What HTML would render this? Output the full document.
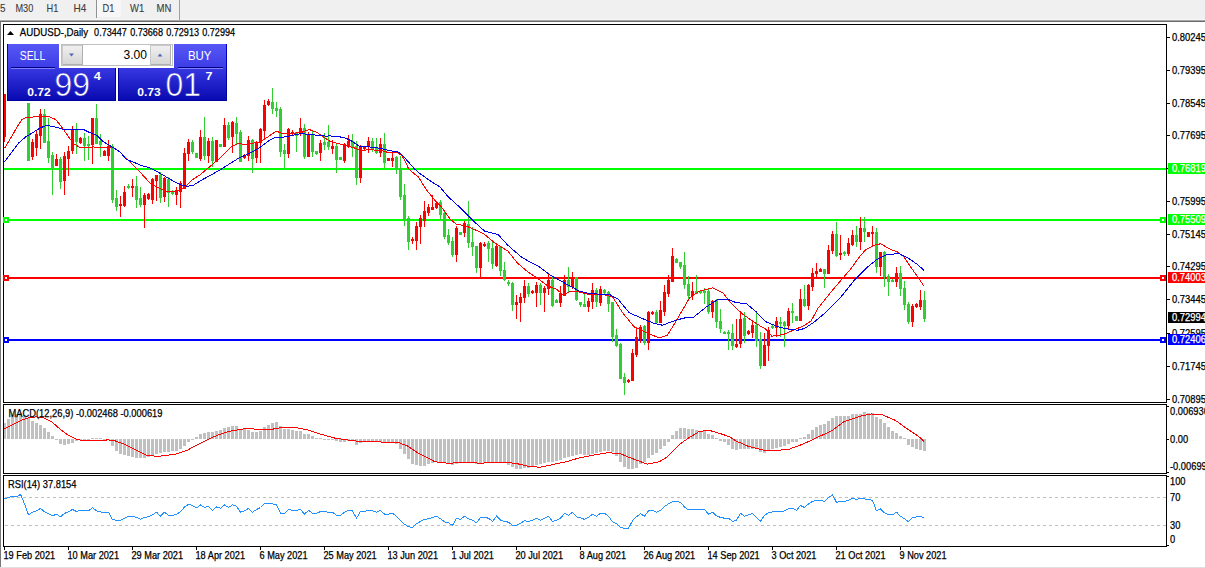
<!DOCTYPE html><html><head><meta charset="utf-8"><style>html,body{margin:0;padding:0;background:#fff;width:1205px;height:568px;overflow:hidden}svg{display:block}text{font-family:"Liberation Sans",sans-serif}</style></head><body>
<svg width="1205" height="568" viewBox="0 0 1205 568">
<rect x="0" y="0" width="1205" height="568" fill="#ffffff"/>
<rect x="0" y="0" width="1205" height="20" fill="#f0f0f0"/>
<rect x="0" y="19" width="1205" height="1" fill="#f6f6f6"/><rect x="0" y="20" width="1205" height="1" fill="#a8a8a8"/><rect x="0" y="21" width="1205" height="1" fill="#6a6a6a"/>
<rect x="97" y="0" width="24" height="17" fill="#f7f7f7"/>
<rect x="96" y="0" width="1" height="18" fill="#909090"/>
<rect x="179" y="0" width="1" height="20" fill="#a0a0a0"/>
<text x="0" y="12" font-size="10.3" fill="#3a3a3a" textLength="5.50" lengthAdjust="spacingAndGlyphs" stroke="#3a3a3a" stroke-width="0.1">5</text>
<text x="15.5" y="12" font-size="10.3" fill="#3a3a3a" textLength="17.80" lengthAdjust="spacingAndGlyphs" stroke="#3a3a3a" stroke-width="0.1">M30</text>
<text x="46.5" y="12" font-size="10.3" fill="#3a3a3a" textLength="11.80" lengthAdjust="spacingAndGlyphs" stroke="#3a3a3a" stroke-width="0.1">H1</text>
<text x="73.5" y="12" font-size="10.3" fill="#3a3a3a" textLength="12.80" lengthAdjust="spacingAndGlyphs" stroke="#3a3a3a" stroke-width="0.1">H4</text>
<text x="102.5" y="12" font-size="10.3" fill="#3a3a3a" textLength="11.80" lengthAdjust="spacingAndGlyphs" stroke="#3a3a3a" stroke-width="0.1">D1</text>
<text x="130" y="12" font-size="10.3" fill="#3a3a3a" textLength="14.20" lengthAdjust="spacingAndGlyphs" stroke="#3a3a3a" stroke-width="0.1">W1</text>
<text x="156.5" y="12" font-size="10.3" fill="#3a3a3a" textLength="14.80" lengthAdjust="spacingAndGlyphs" stroke="#3a3a3a" stroke-width="0.1">MN</text>
<rect x="0" y="21" width="1" height="547" fill="#787878"/>
<rect x="0" y="567" width="1205" height="1" fill="#e0e0e0"/>
<defs><clipPath id="cm"><rect x="4" y="25" width="1162" height="377"/></clipPath><clipPath id="cd"><rect x="4" y="405" width="1162" height="67"/></clipPath><clipPath id="cr"><rect x="4" y="476" width="1162" height="69"/></clipPath></defs>
<g clip-path="url(#cm)" shape-rendering="crispEdges">
<rect x="4" y="168" width="1162" height="2" fill="#00ff00"/>
<rect x="4" y="219" width="1162" height="2" fill="#00ff00"/>
<rect x="4" y="277" width="1162" height="2" fill="#ff0000"/>
<rect x="4" y="339" width="1162" height="2" fill="#0000ff"/>
</g>
<g clip-path="url(#cm)" shape-rendering="crispEdges">
<rect x="4" y="94" width="1" height="48" fill="#ff0000"/>
<rect x="3" y="94" width="3" height="43" fill="#ff0000"/>
<rect x="28" y="103" width="1" height="58" fill="#32cd32"/>
<rect x="27" y="103" width="3" height="58" fill="#32cd32"/>
<rect x="32" y="139" width="1" height="21" fill="#ff0000"/>
<rect x="31" y="142" width="3" height="15" fill="#ff0000"/>
<rect x="36" y="130" width="1" height="26" fill="#ff0000"/>
<rect x="35" y="134" width="3" height="14" fill="#ff0000"/>
<rect x="40" y="109" width="1" height="40" fill="#ff0000"/>
<rect x="39" y="114" width="3" height="22" fill="#ff0000"/>
<rect x="44" y="109" width="1" height="34" fill="#32cd32"/>
<rect x="43" y="114" width="3" height="29" fill="#32cd32"/>
<rect x="48" y="118" width="1" height="45" fill="#32cd32"/>
<rect x="47" y="141" width="3" height="17" fill="#32cd32"/>
<rect x="52" y="152" width="1" height="43" fill="#32cd32"/>
<rect x="51" y="155" width="3" height="13" fill="#32cd32"/>
<rect x="56" y="154" width="1" height="12" fill="#ff0000"/>
<rect x="55" y="159" width="3" height="7" fill="#ff0000"/>
<rect x="60" y="157" width="1" height="32" fill="#32cd32"/>
<rect x="59" y="159" width="3" height="23" fill="#32cd32"/>
<rect x="64" y="152" width="1" height="43" fill="#ff0000"/>
<rect x="63" y="156" width="3" height="25" fill="#ff0000"/>
<rect x="68" y="146" width="1" height="30" fill="#ff0000"/>
<rect x="67" y="151" width="3" height="8" fill="#ff0000"/>
<rect x="72" y="126" width="1" height="28" fill="#ff0000"/>
<rect x="71" y="129" width="3" height="22" fill="#ff0000"/>
<rect x="76" y="123" width="1" height="31" fill="#32cd32"/>
<rect x="75" y="129" width="3" height="13" fill="#32cd32"/>
<rect x="80" y="137" width="1" height="7" fill="#ff0000"/>
<rect x="79" y="138" width="3" height="5" fill="#ff0000"/>
<rect x="84" y="133" width="1" height="28" fill="#32cd32"/>
<rect x="83" y="138" width="3" height="8" fill="#32cd32"/>
<rect x="88" y="136" width="1" height="24" fill="#32cd32"/>
<rect x="87" y="144" width="3" height="2" fill="#32cd32"/>
<rect x="92" y="118" width="1" height="46" fill="#ff0000"/>
<rect x="91" y="118" width="3" height="27" fill="#ff0000"/>
<rect x="96" y="104" width="1" height="40" fill="#32cd32"/>
<rect x="95" y="118" width="3" height="26" fill="#32cd32"/>
<rect x="100" y="134" width="1" height="23" fill="#32cd32"/>
<rect x="99" y="141" width="3" height="4" fill="#32cd32"/>
<rect x="104" y="150" width="1" height="6" fill="#ff0000"/>
<rect x="103" y="151" width="3" height="5" fill="#ff0000"/>
<rect x="108" y="140" width="1" height="21" fill="#ff0000"/>
<rect x="107" y="146" width="3" height="10" fill="#ff0000"/>
<rect x="112" y="144" width="1" height="59" fill="#32cd32"/>
<rect x="111" y="146" width="3" height="54" fill="#32cd32"/>
<rect x="116" y="190" width="1" height="21" fill="#32cd32"/>
<rect x="115" y="198" width="3" height="9" fill="#32cd32"/>
<rect x="120" y="196" width="1" height="21" fill="#ff0000"/>
<rect x="119" y="204" width="3" height="2" fill="#ff0000"/>
<rect x="124" y="186" width="1" height="21" fill="#ff0000"/>
<rect x="123" y="192" width="3" height="14" fill="#ff0000"/>
<rect x="128" y="184" width="1" height="5" fill="#32cd32"/>
<rect x="127" y="186" width="3" height="2" fill="#32cd32"/>
<rect x="132" y="179" width="1" height="18" fill="#ff0000"/>
<rect x="131" y="186" width="3" height="2" fill="#ff0000"/>
<rect x="136" y="176" width="1" height="32" fill="#32cd32"/>
<rect x="135" y="186" width="3" height="14" fill="#32cd32"/>
<rect x="140" y="187" width="1" height="20" fill="#32cd32"/>
<rect x="139" y="198" width="3" height="7" fill="#32cd32"/>
<rect x="144" y="193" width="1" height="35" fill="#ff0000"/>
<rect x="143" y="195" width="3" height="10" fill="#ff0000"/>
<rect x="148" y="193" width="1" height="7" fill="#ff0000"/>
<rect x="147" y="194" width="3" height="5" fill="#ff0000"/>
<rect x="152" y="178" width="1" height="26" fill="#ff0000"/>
<rect x="151" y="179" width="3" height="21" fill="#ff0000"/>
<rect x="156" y="175" width="1" height="26" fill="#ff0000"/>
<rect x="155" y="175" width="3" height="6" fill="#ff0000"/>
<rect x="160" y="172" width="1" height="31" fill="#32cd32"/>
<rect x="159" y="175" width="3" height="23" fill="#32cd32"/>
<rect x="164" y="177" width="1" height="25" fill="#ff0000"/>
<rect x="163" y="178" width="3" height="19" fill="#ff0000"/>
<rect x="168" y="177" width="1" height="30" fill="#32cd32"/>
<rect x="167" y="179" width="3" height="14" fill="#32cd32"/>
<rect x="172" y="190" width="1" height="5" fill="#32cd32"/>
<rect x="171" y="192" width="3" height="2" fill="#32cd32"/>
<rect x="176" y="187" width="1" height="18" fill="#ff0000"/>
<rect x="175" y="190" width="3" height="5" fill="#ff0000"/>
<rect x="180" y="181" width="1" height="27" fill="#ff0000"/>
<rect x="179" y="183" width="3" height="9" fill="#ff0000"/>
<rect x="184" y="148" width="1" height="41" fill="#ff0000"/>
<rect x="183" y="153" width="3" height="36" fill="#ff0000"/>
<rect x="188" y="139" width="1" height="22" fill="#ff0000"/>
<rect x="187" y="142" width="3" height="12" fill="#ff0000"/>
<rect x="192" y="140" width="1" height="14" fill="#32cd32"/>
<rect x="191" y="142" width="3" height="10" fill="#32cd32"/>
<rect x="196" y="153" width="1" height="5" fill="#32cd32"/>
<rect x="195" y="153" width="3" height="5" fill="#32cd32"/>
<rect x="200" y="130" width="1" height="31" fill="#ff0000"/>
<rect x="199" y="137" width="3" height="22" fill="#ff0000"/>
<rect x="204" y="117" width="1" height="43" fill="#32cd32"/>
<rect x="203" y="137" width="3" height="19" fill="#32cd32"/>
<rect x="208" y="138" width="1" height="25" fill="#ff0000"/>
<rect x="207" y="141" width="3" height="15" fill="#ff0000"/>
<rect x="212" y="137" width="1" height="30" fill="#32cd32"/>
<rect x="211" y="141" width="3" height="20" fill="#32cd32"/>
<rect x="216" y="140" width="1" height="22" fill="#ff0000"/>
<rect x="215" y="140" width="3" height="22" fill="#ff0000"/>
<rect x="220" y="144" width="1" height="3" fill="#32cd32"/>
<rect x="219" y="144" width="3" height="3" fill="#32cd32"/>
<rect x="224" y="118" width="1" height="29" fill="#ff0000"/>
<rect x="223" y="125" width="3" height="22" fill="#ff0000"/>
<rect x="228" y="122" width="1" height="18" fill="#32cd32"/>
<rect x="227" y="125" width="3" height="13" fill="#32cd32"/>
<rect x="232" y="121" width="1" height="32" fill="#ff0000"/>
<rect x="231" y="122" width="3" height="15" fill="#ff0000"/>
<rect x="236" y="117" width="1" height="27" fill="#32cd32"/>
<rect x="235" y="123" width="3" height="11" fill="#32cd32"/>
<rect x="240" y="130" width="1" height="32" fill="#32cd32"/>
<rect x="239" y="132" width="3" height="30" fill="#32cd32"/>
<rect x="244" y="154" width="1" height="5" fill="#ff0000"/>
<rect x="243" y="155" width="3" height="3" fill="#ff0000"/>
<rect x="248" y="136" width="1" height="25" fill="#ff0000"/>
<rect x="247" y="140" width="3" height="16" fill="#ff0000"/>
<rect x="252" y="139" width="1" height="34" fill="#32cd32"/>
<rect x="251" y="140" width="3" height="19" fill="#32cd32"/>
<rect x="256" y="141" width="1" height="22" fill="#ff0000"/>
<rect x="255" y="143" width="3" height="15" fill="#ff0000"/>
<rect x="260" y="128" width="1" height="35" fill="#ff0000"/>
<rect x="259" y="129" width="3" height="14" fill="#ff0000"/>
<rect x="264" y="100" width="1" height="40" fill="#ff0000"/>
<rect x="263" y="105" width="3" height="26" fill="#ff0000"/>
<rect x="268" y="99" width="1" height="7" fill="#ff0000"/>
<rect x="267" y="101" width="3" height="4" fill="#ff0000"/>
<rect x="272" y="88" width="1" height="26" fill="#32cd32"/>
<rect x="271" y="102" width="3" height="7" fill="#32cd32"/>
<rect x="276" y="102" width="1" height="15" fill="#32cd32"/>
<rect x="275" y="108" width="3" height="3" fill="#32cd32"/>
<rect x="280" y="107" width="1" height="50" fill="#32cd32"/>
<rect x="279" y="109" width="3" height="43" fill="#32cd32"/>
<rect x="284" y="144" width="1" height="25" fill="#32cd32"/>
<rect x="283" y="150" width="3" height="4" fill="#32cd32"/>
<rect x="288" y="128" width="1" height="30" fill="#ff0000"/>
<rect x="287" y="129" width="3" height="25" fill="#ff0000"/>
<rect x="292" y="130" width="1" height="5" fill="#ff0000"/>
<rect x="291" y="132" width="3" height="2" fill="#ff0000"/>
<rect x="296" y="132" width="1" height="20" fill="#32cd32"/>
<rect x="295" y="132" width="3" height="4" fill="#32cd32"/>
<rect x="300" y="118" width="1" height="18" fill="#ff0000"/>
<rect x="299" y="128" width="3" height="5" fill="#ff0000"/>
<rect x="304" y="124" width="1" height="35" fill="#32cd32"/>
<rect x="303" y="128" width="3" height="29" fill="#32cd32"/>
<rect x="308" y="132" width="1" height="25" fill="#ff0000"/>
<rect x="307" y="134" width="3" height="23" fill="#ff0000"/>
<rect x="312" y="130" width="1" height="27" fill="#32cd32"/>
<rect x="311" y="135" width="3" height="17" fill="#32cd32"/>
<rect x="316" y="151" width="1" height="4" fill="#32cd32"/>
<rect x="315" y="151" width="3" height="3" fill="#32cd32"/>
<rect x="320" y="140" width="1" height="21" fill="#ff0000"/>
<rect x="319" y="143" width="3" height="10" fill="#ff0000"/>
<rect x="324" y="133" width="1" height="17" fill="#32cd32"/>
<rect x="323" y="142" width="3" height="3" fill="#32cd32"/>
<rect x="328" y="125" width="1" height="25" fill="#32cd32"/>
<rect x="327" y="142" width="3" height="5" fill="#32cd32"/>
<rect x="332" y="140" width="1" height="14" fill="#ff0000"/>
<rect x="331" y="146" width="3" height="3" fill="#ff0000"/>
<rect x="336" y="144" width="1" height="29" fill="#32cd32"/>
<rect x="335" y="146" width="3" height="14" fill="#32cd32"/>
<rect x="340" y="157" width="1" height="3" fill="#32cd32"/>
<rect x="339" y="157" width="3" height="3" fill="#32cd32"/>
<rect x="344" y="143" width="1" height="20" fill="#ff0000"/>
<rect x="343" y="145" width="3" height="16" fill="#ff0000"/>
<rect x="348" y="135" width="1" height="13" fill="#ff0000"/>
<rect x="347" y="141" width="3" height="6" fill="#ff0000"/>
<rect x="352" y="134" width="1" height="23" fill="#32cd32"/>
<rect x="351" y="141" width="3" height="6" fill="#32cd32"/>
<rect x="356" y="141" width="1" height="44" fill="#32cd32"/>
<rect x="355" y="146" width="3" height="32" fill="#32cd32"/>
<rect x="360" y="145" width="1" height="38" fill="#ff0000"/>
<rect x="359" y="146" width="3" height="32" fill="#ff0000"/>
<rect x="364" y="146" width="1" height="4" fill="#ff0000"/>
<rect x="363" y="146" width="3" height="3" fill="#ff0000"/>
<rect x="368" y="137" width="1" height="16" fill="#ff0000"/>
<rect x="367" y="141" width="3" height="6" fill="#ff0000"/>
<rect x="372" y="138" width="1" height="14" fill="#32cd32"/>
<rect x="371" y="141" width="3" height="8" fill="#32cd32"/>
<rect x="376" y="138" width="1" height="16" fill="#32cd32"/>
<rect x="375" y="148" width="3" height="5" fill="#32cd32"/>
<rect x="380" y="138" width="1" height="19" fill="#ff0000"/>
<rect x="379" y="144" width="3" height="9" fill="#ff0000"/>
<rect x="384" y="133" width="1" height="35" fill="#32cd32"/>
<rect x="383" y="144" width="3" height="19" fill="#32cd32"/>
<rect x="388" y="158" width="1" height="3" fill="#ff0000"/>
<rect x="387" y="158" width="3" height="3" fill="#ff0000"/>
<rect x="392" y="152" width="1" height="15" fill="#ff0000"/>
<rect x="391" y="158" width="3" height="3" fill="#ff0000"/>
<rect x="396" y="156" width="1" height="18" fill="#32cd32"/>
<rect x="395" y="157" width="3" height="12" fill="#32cd32"/>
<rect x="400" y="156" width="1" height="44" fill="#32cd32"/>
<rect x="399" y="168" width="3" height="29" fill="#32cd32"/>
<rect x="404" y="184" width="1" height="42" fill="#32cd32"/>
<rect x="403" y="195" width="3" height="26" fill="#32cd32"/>
<rect x="408" y="216" width="1" height="34" fill="#32cd32"/>
<rect x="407" y="218" width="3" height="24" fill="#32cd32"/>
<rect x="412" y="237" width="1" height="7" fill="#ff0000"/>
<rect x="411" y="239" width="3" height="2" fill="#ff0000"/>
<rect x="416" y="222" width="1" height="28" fill="#ff0000"/>
<rect x="415" y="226" width="3" height="15" fill="#ff0000"/>
<rect x="420" y="215" width="1" height="29" fill="#ff0000"/>
<rect x="419" y="218" width="3" height="9" fill="#ff0000"/>
<rect x="424" y="201" width="1" height="26" fill="#ff0000"/>
<rect x="423" y="211" width="3" height="10" fill="#ff0000"/>
<rect x="428" y="204" width="1" height="12" fill="#ff0000"/>
<rect x="427" y="207" width="3" height="6" fill="#ff0000"/>
<rect x="432" y="195" width="1" height="15" fill="#ff0000"/>
<rect x="431" y="207" width="3" height="3" fill="#ff0000"/>
<rect x="436" y="202" width="1" height="7" fill="#ff0000"/>
<rect x="435" y="203" width="3" height="5" fill="#ff0000"/>
<rect x="440" y="200" width="1" height="20" fill="#32cd32"/>
<rect x="439" y="202" width="3" height="13" fill="#32cd32"/>
<rect x="444" y="212" width="1" height="27" fill="#32cd32"/>
<rect x="443" y="213" width="3" height="24" fill="#32cd32"/>
<rect x="448" y="229" width="1" height="16" fill="#32cd32"/>
<rect x="447" y="235" width="3" height="8" fill="#32cd32"/>
<rect x="452" y="237" width="1" height="20" fill="#32cd32"/>
<rect x="451" y="241" width="3" height="14" fill="#32cd32"/>
<rect x="456" y="226" width="1" height="36" fill="#ff0000"/>
<rect x="455" y="228" width="3" height="27" fill="#ff0000"/>
<rect x="460" y="232" width="1" height="3" fill="#32cd32"/>
<rect x="459" y="232" width="3" height="3" fill="#32cd32"/>
<rect x="464" y="221" width="1" height="16" fill="#ff0000"/>
<rect x="463" y="223" width="3" height="10" fill="#ff0000"/>
<rect x="468" y="201" width="1" height="47" fill="#32cd32"/>
<rect x="467" y="224" width="3" height="19" fill="#32cd32"/>
<rect x="472" y="227" width="1" height="29" fill="#32cd32"/>
<rect x="471" y="242" width="3" height="5" fill="#32cd32"/>
<rect x="476" y="246" width="1" height="27" fill="#32cd32"/>
<rect x="475" y="246" width="3" height="22" fill="#32cd32"/>
<rect x="480" y="242" width="1" height="35" fill="#ff0000"/>
<rect x="479" y="243" width="3" height="25" fill="#ff0000"/>
<rect x="484" y="242" width="1" height="5" fill="#ff0000"/>
<rect x="483" y="244" width="3" height="2" fill="#ff0000"/>
<rect x="488" y="241" width="1" height="21" fill="#32cd32"/>
<rect x="487" y="243" width="3" height="6" fill="#32cd32"/>
<rect x="492" y="240" width="1" height="29" fill="#32cd32"/>
<rect x="491" y="248" width="3" height="16" fill="#32cd32"/>
<rect x="496" y="245" width="1" height="22" fill="#ff0000"/>
<rect x="495" y="246" width="3" height="20" fill="#ff0000"/>
<rect x="500" y="246" width="1" height="30" fill="#32cd32"/>
<rect x="499" y="246" width="3" height="25" fill="#32cd32"/>
<rect x="504" y="262" width="1" height="19" fill="#32cd32"/>
<rect x="503" y="270" width="3" height="10" fill="#32cd32"/>
<rect x="508" y="280" width="1" height="6" fill="#32cd32"/>
<rect x="507" y="282" width="3" height="2" fill="#32cd32"/>
<rect x="512" y="282" width="1" height="29" fill="#32cd32"/>
<rect x="511" y="283" width="3" height="22" fill="#32cd32"/>
<rect x="516" y="295" width="1" height="24" fill="#ff0000"/>
<rect x="515" y="302" width="3" height="3" fill="#ff0000"/>
<rect x="520" y="293" width="1" height="29" fill="#ff0000"/>
<rect x="519" y="297" width="3" height="6" fill="#ff0000"/>
<rect x="524" y="280" width="1" height="23" fill="#ff0000"/>
<rect x="523" y="286" width="3" height="12" fill="#ff0000"/>
<rect x="528" y="283" width="1" height="14" fill="#32cd32"/>
<rect x="527" y="286" width="3" height="8" fill="#32cd32"/>
<rect x="532" y="290" width="1" height="4" fill="#ff0000"/>
<rect x="531" y="291" width="3" height="2" fill="#ff0000"/>
<rect x="536" y="282" width="1" height="25" fill="#ff0000"/>
<rect x="535" y="285" width="3" height="8" fill="#ff0000"/>
<rect x="540" y="283" width="1" height="22" fill="#32cd32"/>
<rect x="539" y="285" width="3" height="8" fill="#32cd32"/>
<rect x="544" y="286" width="1" height="26" fill="#ff0000"/>
<rect x="543" y="288" width="3" height="5" fill="#ff0000"/>
<rect x="548" y="273" width="1" height="22" fill="#ff0000"/>
<rect x="547" y="280" width="3" height="9" fill="#ff0000"/>
<rect x="552" y="276" width="1" height="31" fill="#32cd32"/>
<rect x="551" y="280" width="3" height="26" fill="#32cd32"/>
<rect x="556" y="299" width="1" height="4" fill="#32cd32"/>
<rect x="555" y="300" width="3" height="3" fill="#32cd32"/>
<rect x="560" y="286" width="1" height="21" fill="#ff0000"/>
<rect x="559" y="293" width="3" height="10" fill="#ff0000"/>
<rect x="564" y="275" width="1" height="21" fill="#ff0000"/>
<rect x="563" y="280" width="3" height="16" fill="#ff0000"/>
<rect x="568" y="267" width="1" height="25" fill="#32cd32"/>
<rect x="567" y="280" width="3" height="7" fill="#32cd32"/>
<rect x="572" y="272" width="1" height="17" fill="#ff0000"/>
<rect x="571" y="277" width="3" height="10" fill="#ff0000"/>
<rect x="576" y="277" width="1" height="24" fill="#32cd32"/>
<rect x="575" y="277" width="3" height="23" fill="#32cd32"/>
<rect x="580" y="302" width="1" height="5" fill="#32cd32"/>
<rect x="579" y="302" width="3" height="3" fill="#32cd32"/>
<rect x="584" y="293" width="1" height="14" fill="#32cd32"/>
<rect x="583" y="304" width="3" height="3" fill="#32cd32"/>
<rect x="588" y="298" width="1" height="14" fill="#ff0000"/>
<rect x="587" y="301" width="3" height="6" fill="#ff0000"/>
<rect x="592" y="283" width="1" height="26" fill="#ff0000"/>
<rect x="591" y="290" width="3" height="12" fill="#ff0000"/>
<rect x="596" y="288" width="1" height="19" fill="#32cd32"/>
<rect x="595" y="290" width="3" height="12" fill="#32cd32"/>
<rect x="600" y="286" width="1" height="20" fill="#ff0000"/>
<rect x="599" y="289" width="3" height="14" fill="#ff0000"/>
<rect x="604" y="289" width="1" height="5" fill="#32cd32"/>
<rect x="603" y="290" width="3" height="3" fill="#32cd32"/>
<rect x="608" y="291" width="1" height="21" fill="#32cd32"/>
<rect x="607" y="292" width="3" height="12" fill="#32cd32"/>
<rect x="612" y="302" width="1" height="40" fill="#32cd32"/>
<rect x="611" y="302" width="3" height="35" fill="#32cd32"/>
<rect x="616" y="329" width="1" height="18" fill="#32cd32"/>
<rect x="615" y="335" width="3" height="11" fill="#32cd32"/>
<rect x="620" y="343" width="1" height="36" fill="#32cd32"/>
<rect x="619" y="344" width="3" height="35" fill="#32cd32"/>
<rect x="624" y="373" width="1" height="22" fill="#32cd32"/>
<rect x="623" y="377" width="3" height="6" fill="#32cd32"/>
<rect x="628" y="379" width="1" height="4" fill="#ff0000"/>
<rect x="627" y="380" width="3" height="2" fill="#ff0000"/>
<rect x="632" y="349" width="1" height="32" fill="#ff0000"/>
<rect x="631" y="353" width="3" height="28" fill="#ff0000"/>
<rect x="636" y="328" width="1" height="29" fill="#ff0000"/>
<rect x="635" y="337" width="3" height="18" fill="#ff0000"/>
<rect x="640" y="325" width="1" height="18" fill="#ff0000"/>
<rect x="639" y="327" width="3" height="12" fill="#ff0000"/>
<rect x="644" y="325" width="1" height="20" fill="#32cd32"/>
<rect x="643" y="326" width="3" height="17" fill="#32cd32"/>
<rect x="648" y="311" width="1" height="39" fill="#ff0000"/>
<rect x="647" y="312" width="3" height="31" fill="#ff0000"/>
<rect x="652" y="311" width="1" height="4" fill="#ff0000"/>
<rect x="651" y="312" width="3" height="2" fill="#ff0000"/>
<rect x="656" y="310" width="1" height="14" fill="#32cd32"/>
<rect x="655" y="312" width="3" height="11" fill="#32cd32"/>
<rect x="660" y="301" width="1" height="22" fill="#ff0000"/>
<rect x="659" y="310" width="3" height="13" fill="#ff0000"/>
<rect x="664" y="285" width="1" height="31" fill="#ff0000"/>
<rect x="663" y="292" width="3" height="20" fill="#ff0000"/>
<rect x="668" y="275" width="1" height="22" fill="#ff0000"/>
<rect x="667" y="280" width="3" height="14" fill="#ff0000"/>
<rect x="672" y="248" width="1" height="34" fill="#ff0000"/>
<rect x="671" y="256" width="3" height="26" fill="#ff0000"/>
<rect x="676" y="258" width="1" height="5" fill="#32cd32"/>
<rect x="675" y="259" width="3" height="4" fill="#32cd32"/>
<rect x="680" y="262" width="1" height="7" fill="#32cd32"/>
<rect x="679" y="262" width="3" height="5" fill="#32cd32"/>
<rect x="684" y="252" width="1" height="37" fill="#32cd32"/>
<rect x="683" y="265" width="3" height="20" fill="#32cd32"/>
<rect x="688" y="276" width="1" height="25" fill="#32cd32"/>
<rect x="687" y="284" width="3" height="12" fill="#32cd32"/>
<rect x="692" y="282" width="1" height="18" fill="#ff0000"/>
<rect x="691" y="291" width="3" height="5" fill="#ff0000"/>
<rect x="696" y="275" width="1" height="19" fill="#32cd32"/>
<rect x="695" y="291" width="3" height="3" fill="#32cd32"/>
<rect x="700" y="290" width="1" height="4" fill="#32cd32"/>
<rect x="699" y="291" width="3" height="2" fill="#32cd32"/>
<rect x="704" y="288" width="1" height="16" fill="#32cd32"/>
<rect x="703" y="291" width="3" height="2" fill="#32cd32"/>
<rect x="708" y="289" width="1" height="25" fill="#32cd32"/>
<rect x="707" y="291" width="3" height="21" fill="#32cd32"/>
<rect x="712" y="300" width="1" height="18" fill="#ff0000"/>
<rect x="711" y="301" width="3" height="11" fill="#ff0000"/>
<rect x="716" y="299" width="1" height="29" fill="#32cd32"/>
<rect x="715" y="300" width="3" height="22" fill="#32cd32"/>
<rect x="720" y="309" width="1" height="24" fill="#32cd32"/>
<rect x="719" y="321" width="3" height="8" fill="#32cd32"/>
<rect x="724" y="331" width="1" height="3" fill="#32cd32"/>
<rect x="723" y="332" width="3" height="2" fill="#32cd32"/>
<rect x="728" y="330" width="1" height="20" fill="#32cd32"/>
<rect x="727" y="332" width="3" height="2" fill="#32cd32"/>
<rect x="732" y="324" width="1" height="26" fill="#32cd32"/>
<rect x="731" y="333" width="3" height="13" fill="#32cd32"/>
<rect x="736" y="319" width="1" height="29" fill="#ff0000"/>
<rect x="735" y="344" width="3" height="3" fill="#ff0000"/>
<rect x="740" y="312" width="1" height="36" fill="#ff0000"/>
<rect x="739" y="319" width="3" height="25" fill="#ff0000"/>
<rect x="744" y="312" width="1" height="31" fill="#32cd32"/>
<rect x="743" y="318" width="3" height="18" fill="#32cd32"/>
<rect x="748" y="330" width="1" height="5" fill="#ff0000"/>
<rect x="747" y="331" width="3" height="3" fill="#ff0000"/>
<rect x="752" y="321" width="1" height="17" fill="#ff0000"/>
<rect x="751" y="325" width="3" height="8" fill="#ff0000"/>
<rect x="756" y="313" width="1" height="34" fill="#32cd32"/>
<rect x="755" y="325" width="3" height="16" fill="#32cd32"/>
<rect x="760" y="332" width="1" height="37" fill="#32cd32"/>
<rect x="759" y="339" width="3" height="27" fill="#32cd32"/>
<rect x="764" y="333" width="1" height="33" fill="#ff0000"/>
<rect x="763" y="345" width="3" height="21" fill="#ff0000"/>
<rect x="768" y="327" width="1" height="34" fill="#ff0000"/>
<rect x="767" y="330" width="3" height="16" fill="#ff0000"/>
<rect x="772" y="325" width="1" height="4" fill="#32cd32"/>
<rect x="771" y="326" width="3" height="2" fill="#32cd32"/>
<rect x="776" y="317" width="1" height="20" fill="#ff0000"/>
<rect x="775" y="321" width="3" height="7" fill="#ff0000"/>
<rect x="780" y="317" width="1" height="20" fill="#32cd32"/>
<rect x="779" y="322" width="3" height="2" fill="#32cd32"/>
<rect x="784" y="321" width="1" height="26" fill="#32cd32"/>
<rect x="783" y="322" width="3" height="4" fill="#32cd32"/>
<rect x="788" y="308" width="1" height="22" fill="#ff0000"/>
<rect x="787" y="311" width="3" height="15" fill="#ff0000"/>
<rect x="792" y="303" width="1" height="20" fill="#32cd32"/>
<rect x="791" y="311" width="3" height="2" fill="#32cd32"/>
<rect x="796" y="316" width="1" height="5" fill="#32cd32"/>
<rect x="795" y="316" width="3" height="5" fill="#32cd32"/>
<rect x="800" y="289" width="1" height="32" fill="#ff0000"/>
<rect x="799" y="299" width="3" height="22" fill="#ff0000"/>
<rect x="804" y="285" width="1" height="22" fill="#32cd32"/>
<rect x="803" y="299" width="3" height="7" fill="#32cd32"/>
<rect x="808" y="284" width="1" height="26" fill="#ff0000"/>
<rect x="807" y="285" width="3" height="21" fill="#ff0000"/>
<rect x="812" y="268" width="1" height="23" fill="#ff0000"/>
<rect x="811" y="273" width="3" height="14" fill="#ff0000"/>
<rect x="816" y="263" width="1" height="15" fill="#ff0000"/>
<rect x="815" y="271" width="3" height="3" fill="#ff0000"/>
<rect x="820" y="268" width="1" height="4" fill="#ff0000"/>
<rect x="819" y="269" width="3" height="3" fill="#ff0000"/>
<rect x="824" y="269" width="1" height="19" fill="#32cd32"/>
<rect x="823" y="269" width="3" height="5" fill="#32cd32"/>
<rect x="828" y="245" width="1" height="29" fill="#ff0000"/>
<rect x="827" y="250" width="3" height="24" fill="#ff0000"/>
<rect x="832" y="231" width="1" height="23" fill="#ff0000"/>
<rect x="831" y="234" width="3" height="17" fill="#ff0000"/>
<rect x="836" y="222" width="1" height="35" fill="#32cd32"/>
<rect x="835" y="234" width="3" height="22" fill="#32cd32"/>
<rect x="840" y="235" width="1" height="25" fill="#ff0000"/>
<rect x="839" y="253" width="3" height="2" fill="#ff0000"/>
<rect x="844" y="251" width="1" height="5" fill="#32cd32"/>
<rect x="843" y="252" width="3" height="2" fill="#32cd32"/>
<rect x="848" y="238" width="1" height="18" fill="#ff0000"/>
<rect x="847" y="243" width="3" height="11" fill="#ff0000"/>
<rect x="852" y="230" width="1" height="16" fill="#ff0000"/>
<rect x="851" y="235" width="3" height="10" fill="#ff0000"/>
<rect x="856" y="226" width="1" height="21" fill="#32cd32"/>
<rect x="855" y="235" width="3" height="7" fill="#32cd32"/>
<rect x="860" y="217" width="1" height="33" fill="#ff0000"/>
<rect x="859" y="228" width="3" height="14" fill="#ff0000"/>
<rect x="864" y="217" width="1" height="25" fill="#32cd32"/>
<rect x="863" y="228" width="3" height="4" fill="#32cd32"/>
<rect x="868" y="232" width="1" height="5" fill="#ff0000"/>
<rect x="867" y="232" width="3" height="5" fill="#ff0000"/>
<rect x="872" y="226" width="1" height="21" fill="#ff0000"/>
<rect x="871" y="232" width="3" height="2" fill="#ff0000"/>
<rect x="876" y="228" width="1" height="45" fill="#32cd32"/>
<rect x="875" y="232" width="3" height="35" fill="#32cd32"/>
<rect x="880" y="252" width="1" height="24" fill="#ff0000"/>
<rect x="879" y="252" width="3" height="15" fill="#ff0000"/>
<rect x="884" y="251" width="1" height="36" fill="#32cd32"/>
<rect x="883" y="252" width="3" height="25" fill="#32cd32"/>
<rect x="888" y="274" width="1" height="22" fill="#32cd32"/>
<rect x="887" y="276" width="3" height="6" fill="#32cd32"/>
<rect x="892" y="279" width="1" height="3" fill="#32cd32"/>
<rect x="891" y="280" width="3" height="2" fill="#32cd32"/>
<rect x="896" y="267" width="1" height="20" fill="#ff0000"/>
<rect x="895" y="273" width="3" height="9" fill="#ff0000"/>
<rect x="900" y="266" width="1" height="30" fill="#32cd32"/>
<rect x="899" y="273" width="3" height="16" fill="#32cd32"/>
<rect x="904" y="281" width="1" height="29" fill="#32cd32"/>
<rect x="903" y="288" width="3" height="17" fill="#32cd32"/>
<rect x="908" y="302" width="1" height="22" fill="#32cd32"/>
<rect x="907" y="304" width="3" height="18" fill="#32cd32"/>
<rect x="912" y="304" width="1" height="23" fill="#ff0000"/>
<rect x="911" y="306" width="3" height="16" fill="#ff0000"/>
<rect x="916" y="303" width="1" height="5" fill="#ff0000"/>
<rect x="915" y="304" width="3" height="3" fill="#ff0000"/>
<rect x="920" y="290" width="1" height="20" fill="#ff0000"/>
<rect x="919" y="300" width="3" height="7" fill="#ff0000"/>
<rect x="924" y="291" width="1" height="31" fill="#32cd32"/>
<rect x="923" y="300" width="3" height="19" fill="#32cd32"/>
</g>
<polyline clip-path="url(#cm)" points="4.5,148.5 10.5,138.5 17.1,127.0 22.1,119.5 25.5,117.9 33.5,117.0 40.5,116.2 48.5,116.2 55.5,119.5 60.5,125.3 66.9,134.5 73.5,143.5 80.2,147.7 86.8,147.7 93.5,146.9 100.1,147.7 106.7,147.7 113.4,147.7 120.0,151.9 126.5,158.8 134.9,167.1 141.5,173.7 149.9,182.9 158.2,187.8 166.5,191.2 174.8,192.0 183.1,188.7 191.4,180.4 200.5,174.5 209.7,166.8 221.3,156.9 231.3,146.9 237.9,143.6 246.2,144.4 259.5,141.9 267.8,137.0 276.1,131.1 282.7,133.6 292.7,133.6 302.6,132.0 309.3,129.5 317.6,132.8 325.9,138.6 330.5,141.7 338.8,143.8 345.4,145.0 350.4,146.7 355.4,148.3 358.7,149.6 363.7,150.8 367.0,149.6 373.7,150.0 380.3,150.4 386.9,152.1 396.9,152.5 401.9,155.4 406.0,162.8 408.5,168.7 412.7,172.5 418.3,176.9 426.6,190.2 434.9,200.2 441.5,207.1 449.8,218.7 456.5,224.5 464.8,225.4 476.4,230.4 484.7,234.5 494.6,242.8 507.9,251.1 517.9,263.5 527.8,271.8 537.8,278.5 547.8,286.0 556.1,289.0 562.9,294.5 571.2,291.2 579.5,292.0 589.5,294.5 602.7,294.5 612.7,297.0 622.6,312.8 634.3,326.9 647.3,332.9 658.9,337.9 667.2,335.4 675.5,322.1 689.7,297.7 699.7,291.1 712.9,287.8 722.9,292.8 731.2,303.5 742.8,314.3 756.1,323.5 766.0,329.3 771.8,336.2 783.4,334.5 797.5,328.5 804.5,325.2 811.1,321.1 817.7,308.6 831.0,292.0 840.9,280.4 850.9,268.8 859.2,257.2 865.8,249.5 874.1,245.3 880.8,243.7 889.1,248.7 897.4,252.0 904.0,257.0 910.6,266.9 918.9,278.5 923.9,286.0" fill="none" stroke="#ff0000" stroke-width="1" shape-rendering="crispEdges"/>
<polyline clip-path="url(#cm)" points="4.5,161.8 12.1,151.9 18.8,142.8 25.5,137.0 33.7,132.0 40.3,127.8 47.0,125.3 55.3,127.0 63.5,129.5 73.5,129.5 83.5,129.5 90.1,132.8 96.8,135.3 103.5,141.9 113.4,147.7 120.0,151.9 126.5,159.5 133.3,162.1 141.5,165.5 149.9,167.9 156.5,171.2 166.5,177.1 174.8,182.0 181.5,185.4 188.0,186.2 193.0,185.4 203.1,179.3 219.7,170.1 231.3,162.7 239.5,157.7 249.5,153.5 259.5,147.7 269.5,140.3 276.1,137.0 284.4,137.0 292.7,135.3 301.0,133.6 309.3,134.5 317.6,135.3 325.9,136.1 330.5,135.9 332.2,136.7 342.9,137.1 347.1,138.8 352.1,141.3 358.7,145.8 362.9,147.1 367.0,146.2 372.0,147.5 377.0,147.9 382.0,148.7 386.9,150.0 391.1,150.8 398.5,152.2 402.7,155.4 407.7,161.2 414.3,168.7 418.5,172.5 431.6,181.9 439.9,186.9 448.2,196.8 461.5,208.8 474.7,222.1 484.7,231.2 498.0,234.5 507.9,245.3 521.2,256.9 531.2,262.7 539.5,266.9 549.6,274.6 562.9,282.1 579.5,291.2 589.5,293.7 609.4,294.5 617.7,298.7 629.3,312.8 642.6,318.6 654.2,323.5 662.5,325.2 675.8,320.2 685.7,317.7 693.0,317.7 706.3,306.9 717.9,299.4 727.9,299.4 736.2,302.7 746.1,303.5 756.1,311.8 766.0,321.8 776.7,326.2 785.0,328.7 797.8,330.2 804.5,328.5 814.4,321.9 824.3,313.6 840.9,297.0 854.2,280.4 867.5,267.1 875.8,260.3 887.4,254.5 899.0,253.6 909.0,258.6 917.3,264.4 923.9,270.2" fill="none" stroke="#0000e6" stroke-width="1" shape-rendering="crispEdges"/>
<rect x="3.5" y="24.5" width="1163" height="378" fill="none" stroke="#000" stroke-width="1" shape-rendering="crispEdges"/>
<rect x="3.5" y="404.5" width="1163" height="69" fill="none" stroke="#000" stroke-width="1" shape-rendering="crispEdges"/>
<rect x="3.5" y="475.5" width="1163" height="71" fill="none" stroke="#000" stroke-width="1" shape-rendering="crispEdges"/>
<g shape-rendering="crispEdges">
<rect x="3" y="217" width="6" height="6" fill="#00ff00"/><rect x="5" y="219" width="2" height="2" fill="#fff"/>
<rect x="1160" y="217" width="6" height="6" fill="#00ff00"/><rect x="1162" y="219" width="2" height="2" fill="#fff"/>
<rect x="3" y="275" width="6" height="6" fill="#ff0000"/><rect x="5" y="277" width="2" height="2" fill="#fff"/>
<rect x="1160" y="275" width="6" height="6" fill="#ff0000"/><rect x="1162" y="277" width="2" height="2" fill="#fff"/>
<rect x="3" y="337" width="6" height="6" fill="#0000ff"/><rect x="5" y="339" width="2" height="2" fill="#fff"/>
<rect x="1160" y="337" width="6" height="6" fill="#0000ff"/><rect x="1162" y="339" width="2" height="2" fill="#fff"/>
</g>
<g shape-rendering="crispEdges">
<rect x="1167" y="37" width="3" height="1" fill="#000"/>
<rect x="1167" y="70" width="3" height="1" fill="#000"/>
<rect x="1167" y="103" width="3" height="1" fill="#000"/>
<rect x="1167" y="135" width="3" height="1" fill="#000"/>
<rect x="1167" y="168" width="3" height="1" fill="#000"/>
<rect x="1167" y="201" width="3" height="1" fill="#000"/>
<rect x="1167" y="234" width="3" height="1" fill="#000"/>
<rect x="1167" y="266" width="3" height="1" fill="#000"/>
<rect x="1167" y="299" width="3" height="1" fill="#000"/>
<rect x="1167" y="333" width="3" height="1" fill="#000"/>
<rect x="1167" y="366" width="3" height="1" fill="#000"/>
<rect x="1167" y="399" width="3" height="1" fill="#000"/>
</g>
<text x="1172" y="41" font-size="10" fill="#000" textLength="34.00" lengthAdjust="spacingAndGlyphs" stroke="#000" stroke-width="0.25">0.80245</text>
<text x="1172" y="74" font-size="10" fill="#000" textLength="34.00" lengthAdjust="spacingAndGlyphs" stroke="#000" stroke-width="0.25">0.79395</text>
<text x="1172" y="107" font-size="10" fill="#000" textLength="34.00" lengthAdjust="spacingAndGlyphs" stroke="#000" stroke-width="0.25">0.78545</text>
<text x="1172" y="139" font-size="10" fill="#000" textLength="34.00" lengthAdjust="spacingAndGlyphs" stroke="#000" stroke-width="0.25">0.77695</text>
<text x="1172" y="172" font-size="10" fill="#000" textLength="34.00" lengthAdjust="spacingAndGlyphs" stroke="#000" stroke-width="0.25">0.76845</text>
<text x="1172" y="205" font-size="10" fill="#000" textLength="34.00" lengthAdjust="spacingAndGlyphs" stroke="#000" stroke-width="0.25">0.75995</text>
<text x="1172" y="238" font-size="10" fill="#000" textLength="34.00" lengthAdjust="spacingAndGlyphs" stroke="#000" stroke-width="0.25">0.75145</text>
<text x="1172" y="270" font-size="10" fill="#000" textLength="34.00" lengthAdjust="spacingAndGlyphs" stroke="#000" stroke-width="0.25">0.74295</text>
<text x="1172" y="303" font-size="10" fill="#000" textLength="34.00" lengthAdjust="spacingAndGlyphs" stroke="#000" stroke-width="0.25">0.73445</text>
<text x="1172" y="337" font-size="10" fill="#000" textLength="34.00" lengthAdjust="spacingAndGlyphs" stroke="#000" stroke-width="0.25">0.72595</text>
<text x="1172" y="370" font-size="10" fill="#000" textLength="34.00" lengthAdjust="spacingAndGlyphs" stroke="#000" stroke-width="0.25">0.71745</text>
<text x="1172" y="403" font-size="10" fill="#000" textLength="34.00" lengthAdjust="spacingAndGlyphs" stroke="#000" stroke-width="0.25">0.70895</text>
<rect x="1168" y="163" width="37" height="11" fill="#00ff00" shape-rendering="crispEdges"/>
<text x="1172" y="172" font-size="10" fill="#fff" textLength="34.00" lengthAdjust="spacingAndGlyphs" stroke="#fff" stroke-width="0.25">0.76819</text>
<rect x="1168" y="214" width="37" height="11" fill="#00ff00" shape-rendering="crispEdges"/>
<text x="1172" y="223" font-size="10" fill="#fff" textLength="34.00" lengthAdjust="spacingAndGlyphs" stroke="#fff" stroke-width="0.25">0.75509</text>
<rect x="1168" y="312" width="37" height="11" fill="#000000" shape-rendering="crispEdges"/>
<text x="1172" y="321" font-size="10" fill="#fff" textLength="34.00" lengthAdjust="spacingAndGlyphs" stroke="#fff" stroke-width="0.25">0.72994</text>
<rect x="1168" y="272" width="37" height="11" fill="#ff0000" shape-rendering="crispEdges"/>
<text x="1172" y="281" font-size="10" fill="#fff" textLength="34.00" lengthAdjust="spacingAndGlyphs" stroke="#fff" stroke-width="0.25">0.74003</text>
<rect x="1168" y="334" width="37" height="11" fill="#0000ff" shape-rendering="crispEdges"/>
<text x="1172" y="343" font-size="10" fill="#fff" textLength="34.00" lengthAdjust="spacingAndGlyphs" stroke="#fff" stroke-width="0.25">0.72406</text>
<g clip-path="url(#cd)" shape-rendering="crispEdges">
<rect x="3" y="423" width="3" height="16" fill="#c0c0c0"/>
<rect x="7" y="419" width="3" height="20" fill="#c0c0c0"/>
<rect x="11" y="415" width="3" height="24" fill="#c0c0c0"/>
<rect x="15" y="414" width="3" height="25" fill="#c0c0c0"/>
<rect x="19" y="413" width="3" height="26" fill="#c0c0c0"/>
<rect x="23" y="415" width="3" height="24" fill="#c0c0c0"/>
<rect x="27" y="418" width="3" height="21" fill="#c0c0c0"/>
<rect x="31" y="421" width="3" height="18" fill="#c0c0c0"/>
<rect x="35" y="423" width="3" height="16" fill="#c0c0c0"/>
<rect x="39" y="425" width="3" height="14" fill="#c0c0c0"/>
<rect x="43" y="428" width="3" height="11" fill="#c0c0c0"/>
<rect x="47" y="432" width="3" height="7" fill="#c0c0c0"/>
<rect x="51" y="436" width="3" height="3" fill="#c0c0c0"/>
<rect x="55" y="439" width="3" height="1" fill="#c0c0c0"/>
<rect x="59" y="439" width="3" height="5" fill="#c0c0c0"/>
<rect x="63" y="439" width="3" height="6" fill="#c0c0c0"/>
<rect x="67" y="439" width="3" height="5" fill="#c0c0c0"/>
<rect x="71" y="439" width="3" height="4" fill="#c0c0c0"/>
<rect x="75" y="439" width="3" height="2" fill="#c0c0c0"/>
<rect x="79" y="439" width="3" height="1" fill="#c0c0c0"/>
<rect x="83" y="439" width="3" height="1" fill="#c0c0c0"/>
<rect x="87" y="439" width="3" height="1" fill="#c0c0c0"/>
<rect x="91" y="438" width="3" height="1" fill="#c0c0c0"/>
<rect x="95" y="438" width="3" height="1" fill="#c0c0c0"/>
<rect x="99" y="438" width="3" height="1" fill="#c0c0c0"/>
<rect x="103" y="439" width="3" height="1" fill="#c0c0c0"/>
<rect x="107" y="439" width="3" height="1" fill="#c0c0c0"/>
<rect x="111" y="439" width="3" height="7" fill="#c0c0c0"/>
<rect x="115" y="439" width="3" height="12" fill="#c0c0c0"/>
<rect x="119" y="439" width="3" height="15" fill="#c0c0c0"/>
<rect x="123" y="439" width="3" height="16" fill="#c0c0c0"/>
<rect x="127" y="439" width="3" height="17" fill="#c0c0c0"/>
<rect x="131" y="439" width="3" height="18" fill="#c0c0c0"/>
<rect x="135" y="439" width="3" height="19" fill="#c0c0c0"/>
<rect x="139" y="439" width="3" height="19" fill="#c0c0c0"/>
<rect x="143" y="439" width="3" height="19" fill="#c0c0c0"/>
<rect x="147" y="439" width="3" height="18" fill="#c0c0c0"/>
<rect x="151" y="439" width="3" height="16" fill="#c0c0c0"/>
<rect x="155" y="439" width="3" height="15" fill="#c0c0c0"/>
<rect x="159" y="439" width="3" height="14" fill="#c0c0c0"/>
<rect x="163" y="439" width="3" height="13" fill="#c0c0c0"/>
<rect x="167" y="439" width="3" height="13" fill="#c0c0c0"/>
<rect x="171" y="439" width="3" height="12" fill="#c0c0c0"/>
<rect x="175" y="439" width="3" height="12" fill="#c0c0c0"/>
<rect x="179" y="439" width="3" height="10" fill="#c0c0c0"/>
<rect x="183" y="439" width="3" height="7" fill="#c0c0c0"/>
<rect x="187" y="439" width="3" height="3" fill="#c0c0c0"/>
<rect x="191" y="439" width="3" height="1" fill="#c0c0c0"/>
<rect x="195" y="437" width="3" height="2" fill="#c0c0c0"/>
<rect x="199" y="434" width="3" height="5" fill="#c0c0c0"/>
<rect x="203" y="433" width="3" height="6" fill="#c0c0c0"/>
<rect x="207" y="432" width="3" height="7" fill="#c0c0c0"/>
<rect x="211" y="432" width="3" height="7" fill="#c0c0c0"/>
<rect x="215" y="431" width="3" height="8" fill="#c0c0c0"/>
<rect x="219" y="430" width="3" height="9" fill="#c0c0c0"/>
<rect x="223" y="428" width="3" height="11" fill="#c0c0c0"/>
<rect x="227" y="427" width="3" height="12" fill="#c0c0c0"/>
<rect x="231" y="426" width="3" height="13" fill="#c0c0c0"/>
<rect x="235" y="426" width="3" height="13" fill="#c0c0c0"/>
<rect x="239" y="429" width="3" height="10" fill="#c0c0c0"/>
<rect x="243" y="429" width="3" height="10" fill="#c0c0c0"/>
<rect x="247" y="430" width="3" height="9" fill="#c0c0c0"/>
<rect x="251" y="432" width="3" height="7" fill="#c0c0c0"/>
<rect x="255" y="432" width="3" height="7" fill="#c0c0c0"/>
<rect x="259" y="431" width="3" height="8" fill="#c0c0c0"/>
<rect x="263" y="427" width="3" height="12" fill="#c0c0c0"/>
<rect x="267" y="425" width="3" height="14" fill="#c0c0c0"/>
<rect x="271" y="423" width="3" height="16" fill="#c0c0c0"/>
<rect x="275" y="422" width="3" height="17" fill="#c0c0c0"/>
<rect x="279" y="426" width="3" height="13" fill="#c0c0c0"/>
<rect x="283" y="429" width="3" height="10" fill="#c0c0c0"/>
<rect x="287" y="429" width="3" height="10" fill="#c0c0c0"/>
<rect x="291" y="430" width="3" height="9" fill="#c0c0c0"/>
<rect x="295" y="431" width="3" height="8" fill="#c0c0c0"/>
<rect x="299" y="431" width="3" height="8" fill="#c0c0c0"/>
<rect x="303" y="434" width="3" height="5" fill="#c0c0c0"/>
<rect x="307" y="434" width="3" height="5" fill="#c0c0c0"/>
<rect x="311" y="436" width="3" height="3" fill="#c0c0c0"/>
<rect x="315" y="438" width="3" height="1" fill="#c0c0c0"/>
<rect x="319" y="438" width="3" height="1" fill="#c0c0c0"/>
<rect x="323" y="439" width="3" height="1" fill="#c0c0c0"/>
<rect x="327" y="439" width="3" height="1" fill="#c0c0c0"/>
<rect x="331" y="439" width="3" height="1" fill="#c0c0c0"/>
<rect x="335" y="439" width="3" height="2" fill="#c0c0c0"/>
<rect x="339" y="439" width="3" height="3" fill="#c0c0c0"/>
<rect x="343" y="439" width="3" height="3" fill="#c0c0c0"/>
<rect x="347" y="439" width="3" height="2" fill="#c0c0c0"/>
<rect x="351" y="439" width="3" height="2" fill="#c0c0c0"/>
<rect x="355" y="439" width="3" height="6" fill="#c0c0c0"/>
<rect x="359" y="439" width="3" height="4" fill="#c0c0c0"/>
<rect x="363" y="439" width="3" height="3" fill="#c0c0c0"/>
<rect x="367" y="439" width="3" height="3" fill="#c0c0c0"/>
<rect x="371" y="439" width="3" height="3" fill="#c0c0c0"/>
<rect x="375" y="439" width="3" height="3" fill="#c0c0c0"/>
<rect x="379" y="439" width="3" height="3" fill="#c0c0c0"/>
<rect x="383" y="439" width="3" height="3" fill="#c0c0c0"/>
<rect x="387" y="439" width="3" height="4" fill="#c0c0c0"/>
<rect x="391" y="439" width="3" height="4" fill="#c0c0c0"/>
<rect x="395" y="439" width="3" height="5" fill="#c0c0c0"/>
<rect x="399" y="439" width="3" height="10" fill="#c0c0c0"/>
<rect x="403" y="439" width="3" height="15" fill="#c0c0c0"/>
<rect x="407" y="439" width="3" height="20" fill="#c0c0c0"/>
<rect x="411" y="439" width="3" height="25" fill="#c0c0c0"/>
<rect x="415" y="439" width="3" height="26" fill="#c0c0c0"/>
<rect x="419" y="439" width="3" height="27" fill="#c0c0c0"/>
<rect x="423" y="439" width="3" height="27" fill="#c0c0c0"/>
<rect x="427" y="439" width="3" height="25" fill="#c0c0c0"/>
<rect x="431" y="439" width="3" height="24" fill="#c0c0c0"/>
<rect x="435" y="439" width="3" height="23" fill="#c0c0c0"/>
<rect x="439" y="439" width="3" height="23" fill="#c0c0c0"/>
<rect x="443" y="439" width="3" height="24" fill="#c0c0c0"/>
<rect x="447" y="439" width="3" height="25" fill="#c0c0c0"/>
<rect x="451" y="439" width="3" height="26" fill="#c0c0c0"/>
<rect x="455" y="439" width="3" height="25" fill="#c0c0c0"/>
<rect x="459" y="439" width="3" height="24" fill="#c0c0c0"/>
<rect x="463" y="439" width="3" height="24" fill="#c0c0c0"/>
<rect x="467" y="439" width="3" height="24" fill="#c0c0c0"/>
<rect x="471" y="439" width="3" height="24" fill="#c0c0c0"/>
<rect x="475" y="439" width="3" height="25" fill="#c0c0c0"/>
<rect x="479" y="439" width="3" height="25" fill="#c0c0c0"/>
<rect x="483" y="439" width="3" height="24" fill="#c0c0c0"/>
<rect x="487" y="439" width="3" height="23" fill="#c0c0c0"/>
<rect x="491" y="439" width="3" height="23" fill="#c0c0c0"/>
<rect x="495" y="439" width="3" height="23" fill="#c0c0c0"/>
<rect x="499" y="439" width="3" height="24" fill="#c0c0c0"/>
<rect x="503" y="439" width="3" height="24" fill="#c0c0c0"/>
<rect x="507" y="439" width="3" height="26" fill="#c0c0c0"/>
<rect x="511" y="439" width="3" height="28" fill="#c0c0c0"/>
<rect x="515" y="439" width="3" height="30" fill="#c0c0c0"/>
<rect x="519" y="439" width="3" height="30" fill="#c0c0c0"/>
<rect x="523" y="439" width="3" height="29" fill="#c0c0c0"/>
<rect x="527" y="439" width="3" height="29" fill="#c0c0c0"/>
<rect x="531" y="439" width="3" height="28" fill="#c0c0c0"/>
<rect x="535" y="439" width="3" height="26" fill="#c0c0c0"/>
<rect x="539" y="439" width="3" height="25" fill="#c0c0c0"/>
<rect x="543" y="439" width="3" height="24" fill="#c0c0c0"/>
<rect x="547" y="439" width="3" height="23" fill="#c0c0c0"/>
<rect x="551" y="439" width="3" height="23" fill="#c0c0c0"/>
<rect x="555" y="439" width="3" height="22" fill="#c0c0c0"/>
<rect x="559" y="439" width="3" height="21" fill="#c0c0c0"/>
<rect x="563" y="439" width="3" height="19" fill="#c0c0c0"/>
<rect x="567" y="439" width="3" height="18" fill="#c0c0c0"/>
<rect x="571" y="439" width="3" height="17" fill="#c0c0c0"/>
<rect x="575" y="439" width="3" height="16" fill="#c0c0c0"/>
<rect x="579" y="439" width="3" height="15" fill="#c0c0c0"/>
<rect x="583" y="439" width="3" height="16" fill="#c0c0c0"/>
<rect x="587" y="439" width="3" height="16" fill="#c0c0c0"/>
<rect x="591" y="439" width="3" height="15" fill="#c0c0c0"/>
<rect x="595" y="439" width="3" height="14" fill="#c0c0c0"/>
<rect x="599" y="439" width="3" height="13" fill="#c0c0c0"/>
<rect x="603" y="439" width="3" height="12" fill="#c0c0c0"/>
<rect x="607" y="439" width="3" height="12" fill="#c0c0c0"/>
<rect x="611" y="439" width="3" height="13" fill="#c0c0c0"/>
<rect x="615" y="439" width="3" height="17" fill="#c0c0c0"/>
<rect x="619" y="439" width="3" height="23" fill="#c0c0c0"/>
<rect x="623" y="439" width="3" height="28" fill="#c0c0c0"/>
<rect x="627" y="439" width="3" height="30" fill="#c0c0c0"/>
<rect x="631" y="439" width="3" height="30" fill="#c0c0c0"/>
<rect x="635" y="439" width="3" height="29" fill="#c0c0c0"/>
<rect x="639" y="439" width="3" height="25" fill="#c0c0c0"/>
<rect x="643" y="439" width="3" height="23" fill="#c0c0c0"/>
<rect x="647" y="439" width="3" height="19" fill="#c0c0c0"/>
<rect x="651" y="439" width="3" height="16" fill="#c0c0c0"/>
<rect x="655" y="439" width="3" height="14" fill="#c0c0c0"/>
<rect x="659" y="439" width="3" height="10" fill="#c0c0c0"/>
<rect x="663" y="439" width="3" height="7" fill="#c0c0c0"/>
<rect x="667" y="439" width="3" height="3" fill="#c0c0c0"/>
<rect x="671" y="435" width="3" height="4" fill="#c0c0c0"/>
<rect x="675" y="431" width="3" height="8" fill="#c0c0c0"/>
<rect x="679" y="428" width="3" height="11" fill="#c0c0c0"/>
<rect x="683" y="428" width="3" height="11" fill="#c0c0c0"/>
<rect x="687" y="429" width="3" height="10" fill="#c0c0c0"/>
<rect x="691" y="429" width="3" height="10" fill="#c0c0c0"/>
<rect x="695" y="430" width="3" height="9" fill="#c0c0c0"/>
<rect x="699" y="431" width="3" height="8" fill="#c0c0c0"/>
<rect x="703" y="431" width="3" height="8" fill="#c0c0c0"/>
<rect x="707" y="434" width="3" height="5" fill="#c0c0c0"/>
<rect x="711" y="435" width="3" height="4" fill="#c0c0c0"/>
<rect x="715" y="438" width="3" height="1" fill="#c0c0c0"/>
<rect x="719" y="439" width="3" height="2" fill="#c0c0c0"/>
<rect x="723" y="439" width="3" height="3" fill="#c0c0c0"/>
<rect x="727" y="439" width="3" height="6" fill="#c0c0c0"/>
<rect x="731" y="439" width="3" height="10" fill="#c0c0c0"/>
<rect x="735" y="439" width="3" height="11" fill="#c0c0c0"/>
<rect x="739" y="439" width="3" height="10" fill="#c0c0c0"/>
<rect x="743" y="439" width="3" height="10" fill="#c0c0c0"/>
<rect x="747" y="439" width="3" height="10" fill="#c0c0c0"/>
<rect x="751" y="439" width="3" height="10" fill="#c0c0c0"/>
<rect x="755" y="439" width="3" height="10" fill="#c0c0c0"/>
<rect x="759" y="439" width="3" height="13" fill="#c0c0c0"/>
<rect x="763" y="439" width="3" height="14" fill="#c0c0c0"/>
<rect x="767" y="439" width="3" height="12" fill="#c0c0c0"/>
<rect x="771" y="439" width="3" height="10" fill="#c0c0c0"/>
<rect x="775" y="439" width="3" height="9" fill="#c0c0c0"/>
<rect x="779" y="439" width="3" height="8" fill="#c0c0c0"/>
<rect x="783" y="439" width="3" height="7" fill="#c0c0c0"/>
<rect x="787" y="439" width="3" height="5" fill="#c0c0c0"/>
<rect x="791" y="439" width="3" height="3" fill="#c0c0c0"/>
<rect x="795" y="439" width="3" height="3" fill="#c0c0c0"/>
<rect x="799" y="438" width="3" height="1" fill="#c0c0c0"/>
<rect x="803" y="437" width="3" height="2" fill="#c0c0c0"/>
<rect x="807" y="434" width="3" height="5" fill="#c0c0c0"/>
<rect x="811" y="430" width="3" height="9" fill="#c0c0c0"/>
<rect x="815" y="427" width="3" height="12" fill="#c0c0c0"/>
<rect x="819" y="425" width="3" height="14" fill="#c0c0c0"/>
<rect x="823" y="424" width="3" height="15" fill="#c0c0c0"/>
<rect x="827" y="421" width="3" height="18" fill="#c0c0c0"/>
<rect x="831" y="418" width="3" height="21" fill="#c0c0c0"/>
<rect x="835" y="416" width="3" height="23" fill="#c0c0c0"/>
<rect x="839" y="416" width="3" height="23" fill="#c0c0c0"/>
<rect x="843" y="416" width="3" height="23" fill="#c0c0c0"/>
<rect x="847" y="416" width="3" height="23" fill="#c0c0c0"/>
<rect x="851" y="414" width="3" height="25" fill="#c0c0c0"/>
<rect x="855" y="414" width="3" height="25" fill="#c0c0c0"/>
<rect x="859" y="414" width="3" height="25" fill="#c0c0c0"/>
<rect x="863" y="412" width="3" height="27" fill="#c0c0c0"/>
<rect x="867" y="413" width="3" height="26" fill="#c0c0c0"/>
<rect x="871" y="413" width="3" height="26" fill="#c0c0c0"/>
<rect x="875" y="417" width="3" height="22" fill="#c0c0c0"/>
<rect x="879" y="419" width="3" height="20" fill="#c0c0c0"/>
<rect x="883" y="423" width="3" height="16" fill="#c0c0c0"/>
<rect x="887" y="427" width="3" height="12" fill="#c0c0c0"/>
<rect x="891" y="431" width="3" height="8" fill="#c0c0c0"/>
<rect x="895" y="433" width="3" height="6" fill="#c0c0c0"/>
<rect x="899" y="436" width="3" height="3" fill="#c0c0c0"/>
<rect x="903" y="438" width="3" height="1" fill="#c0c0c0"/>
<rect x="907" y="439" width="3" height="6" fill="#c0c0c0"/>
<rect x="911" y="439" width="3" height="8" fill="#c0c0c0"/>
<rect x="915" y="439" width="3" height="10" fill="#c0c0c0"/>
<rect x="919" y="439" width="3" height="11" fill="#c0c0c0"/>
<rect x="923" y="439" width="3" height="12" fill="#c0c0c0"/>
</g>
<polyline clip-path="url(#cd)" points="4.0,428.9 12.0,424.9 19.9,420.9 27.9,417.9 35.9,416.9 43.8,417.9 51.8,421.9 59.8,428.9 67.7,434.9 75.7,438.9 83.7,440.9 97.6,440.9 107.6,439.9 113.5,440.3 123.5,443.8 135.5,449.8 147.4,455.8 159.4,456.2 175.3,454.2 187.3,450.2 199.2,443.8 211.2,437.9 221.1,433.9 231.1,430.9 240.0,429.5 240.0,429.5 248.0,428.3 255.9,429.3 271.9,429.3 279.8,427.9 297.8,427.9 307.7,429.9 319.7,433.9 335.6,438.3 351.6,440.5 363.5,441.8 397.4,442.2 407.3,445.8 419.3,453.8 435.2,461.8 449.2,463.4 459.1,462.4 473.1,462.4 480.0,463.4 480.0,463.4 492.0,462.2 503.9,462.2 515.9,463.4 527.8,466.2 539.8,467.3 551.7,464.8 567.6,461.4 579.6,457.8 595.5,454.8 607.5,452.8 619.4,453.4 631.4,458.2 647.3,464.2 659.3,461.8 667.3,456.8 679.2,444.8 687.2,438.9 699.1,431.5 709.1,430.3 720.0,433.5 720.0,433.5 730.0,436.9 735.9,440.9 747.9,446.2 763.8,450.2 779.8,450.2 789.7,449.0 803.7,443.8 819.6,436.3 831.6,430.9 843.5,421.9 859.4,416.4 871.4,414.0 881.4,414.4 895.3,420.3 907.3,428.9 919.2,436.9 924.2,441.5" fill="none" stroke="#ff0000" stroke-width="1" shape-rendering="crispEdges"/>
<text x="8.5" y="417" font-size="10.3" fill="#000" textLength="154.00" lengthAdjust="spacingAndGlyphs" stroke="#000" stroke-width="0.25">MACD(12,26,9) -0.002468 -0.000619</text>
<g shape-rendering="crispEdges"><rect x="1167" y="406" width="2" height="1" fill="#000"/><rect x="1167" y="439" width="2" height="1" fill="#000"/><rect x="1167" y="472" width="2" height="1" fill="#000"/><rect x="1167" y="476" width="2" height="1" fill="#000"/><rect x="1167" y="545" width="2" height="1" fill="#000"/></g>
<text x="1170" y="415" font-size="10.3" fill="#000" textLength="38.88" lengthAdjust="spacingAndGlyphs" stroke="#000" stroke-width="0.25">0.006936</text>
<text x="1170" y="443" font-size="10.3" fill="#000" textLength="18.14" lengthAdjust="spacingAndGlyphs" stroke="#000" stroke-width="0.25">0.00</text>
<text x="1170" y="470" font-size="10.3" fill="#000" textLength="41.98" lengthAdjust="spacingAndGlyphs" stroke="#000" stroke-width="0.25">-0.006995</text>
<g clip-path="url(#cr)">
<line x1="5" y1="497.5" x2="1166" y2="497.5" stroke="#c0c0c0" stroke-width="1" stroke-dasharray="3,3" shape-rendering="crispEdges"/>
<line x1="5" y1="525.5" x2="1166" y2="525.5" stroke="#c0c0c0" stroke-width="1" stroke-dasharray="3,3" shape-rendering="crispEdges"/>
</g>
<polyline clip-path="url(#cr)" points="4.5,498.9 8.5,497.5 12.5,496.3 16.5,496.9 20.5,494.3 24.5,503.9 28.5,514.8 32.5,512.2 36.5,510.9 40.5,508.3 44.5,511.8 48.5,513.8 52.5,515.8 56.5,514.2 60.5,516.8 64.5,513.4 68.5,511.8 72.5,509.5 76.5,511.5 80.5,510.3 84.5,510.9 88.5,510.9 92.5,507.5 96.5,510.9 100.5,511.8 104.5,512.8 108.5,512.2 112.5,519.8 116.5,520.2 120.5,520.2 124.5,518.2 128.5,516.2 132.5,516.2 136.5,517.4 140.5,519.4 144.5,517.4 148.5,516.8 152.5,514.8 156.5,512.2 160.5,516.2 164.5,512.2 168.5,515.4 172.5,515.4 176.5,514.2 180.5,511.8 184.5,506.9 188.5,504.3 192.5,505.5 196.5,507.9 200.5,504.9 204.5,507.5 208.5,506.3 212.5,510.3 216.5,506.9 220.5,508.3 224.5,504.9 228.5,507.5 232.5,504.9 236.5,506.3 240.5,512.2 244.5,510.9 248.5,508.3 252.5,512.2 256.5,509.5 260.5,507.5 264.5,503.5 268.5,503.5 272.5,503.9 276.5,504.9 280.5,513.4 284.5,513.4 288.5,509.5 292.5,510.3 296.5,510.3 300.5,509.5 304.5,514.2 308.5,510.3 312.5,513.4 316.5,513.4 320.5,511.5 324.5,511.5 328.5,512.2 332.5,512.2 336.5,515.4 340.5,515.4 344.5,512.2 348.5,510.3 352.5,510.9 356.5,518.2 360.5,511.5 364.5,511.5 368.5,510.3 372.5,510.9 376.5,512.2 380.5,510.3 384.5,514.2 388.5,514.2 392.5,513.4 396.5,516.2 400.5,520.8 404.5,524.2 408.5,526.8 412.5,527.4 416.5,523.8 420.5,521.4 424.5,519.4 428.5,518.8 432.5,517.4 436.5,516.2 440.5,518.8 444.5,521.8 448.5,522.8 452.5,525.4 456.5,518.2 460.5,519.4 464.5,516.2 468.5,518.8 472.5,520.2 476.5,522.8 480.5,517.4 484.5,517.4 488.5,518.2 492.5,521.4 496.5,516.2 500.5,520.2 504.5,521.4 508.5,522.2 512.5,525.4 516.5,525.4 520.5,523.4 524.5,520.8 528.5,521.4 532.5,520.2 536.5,518.2 540.5,520.2 544.5,518.2 548.5,516.2 552.5,521.4 556.5,520.2 560.5,518.2 564.5,513.4 568.5,515.4 572.5,512.2 576.5,516.8 580.5,517.8 584.5,519.4 588.5,517.4 592.5,514.2 596.5,516.2 600.5,513.4 604.5,513.4 608.5,516.2 612.5,521.8 616.5,523.8 620.5,527.8 624.5,528.2 628.5,528.2 632.5,520.8 636.5,516.8 640.5,513.8 644.5,516.2 648.5,510.9 652.5,510.3 656.5,512.2 660.5,510.3 664.5,506.3 668.5,503.9 672.5,501.5 676.5,501.5 680.5,502.3 684.5,506.9 688.5,509.9 692.5,509.5 696.5,509.5 700.5,509.5 704.5,509.5 708.5,514.2 712.5,512.2 716.5,515.8 720.5,517.4 724.5,518.2 728.5,518.2 732.5,521.4 736.5,520.2 740.5,513.4 744.5,516.2 748.5,514.8 752.5,513.4 756.5,517.4 760.5,521.4 764.5,515.4 768.5,512.8 772.5,511.8 776.5,511.5 780.5,511.5 784.5,510.9 788.5,508.9 792.5,508.3 796.5,510.3 800.5,505.5 804.5,507.5 808.5,503.9 812.5,501.5 816.5,500.3 820.5,500.3 824.5,501.5 828.5,497.5 832.5,494.9 836.5,502.3 840.5,501.5 844.5,501.5 848.5,500.3 852.5,498.3 856.5,499.5 860.5,498.3 864.5,498.9 868.5,499.5 872.5,500.3 876.5,510.9 880.5,508.9 884.5,512.8 888.5,514.8 892.5,514.8 896.5,512.2 900.5,516.2 904.5,518.8 908.5,521.8 912.5,517.8 916.5,516.8 920.5,516.2 924.5,518.2" fill="none" stroke="#1e90ff" stroke-width="1" shape-rendering="crispEdges"/>
<text x="8" y="487.5" font-size="10.3" fill="#000" textLength="68.50" lengthAdjust="spacingAndGlyphs" stroke="#000" stroke-width="0.25">RSI(14) 37.8154</text>
<text x="1170" y="485" font-size="10.3" fill="#000" textLength="15.55" lengthAdjust="spacingAndGlyphs" stroke="#000" stroke-width="0.25">100</text>
<text x="1170" y="501" font-size="10.3" fill="#000" textLength="10.37" lengthAdjust="spacingAndGlyphs" stroke="#000" stroke-width="0.25">70</text>
<text x="1170" y="529" font-size="10.3" fill="#000" textLength="10.37" lengthAdjust="spacingAndGlyphs" stroke="#000" stroke-width="0.25">30</text>
<text x="1170" y="543" font-size="10.3" fill="#000" textLength="5.18" lengthAdjust="spacingAndGlyphs" stroke="#000" stroke-width="0.25">0</text>
<g shape-rendering="crispEdges">
<rect x="4" y="547" width="1" height="3" fill="#000"/>
<rect x="68" y="547" width="1" height="3" fill="#000"/>
<rect x="132" y="547" width="1" height="3" fill="#000"/>
<rect x="196" y="547" width="1" height="3" fill="#000"/>
<rect x="260" y="547" width="1" height="3" fill="#000"/>
<rect x="324" y="547" width="1" height="3" fill="#000"/>
<rect x="388" y="547" width="1" height="3" fill="#000"/>
<rect x="452" y="547" width="1" height="3" fill="#000"/>
<rect x="516" y="547" width="1" height="3" fill="#000"/>
<rect x="580" y="547" width="1" height="3" fill="#000"/>
<rect x="644" y="547" width="1" height="3" fill="#000"/>
<rect x="708" y="547" width="1" height="3" fill="#000"/>
<rect x="772" y="547" width="1" height="3" fill="#000"/>
<rect x="836" y="547" width="1" height="3" fill="#000"/>
<rect x="900" y="547" width="1" height="3" fill="#000"/>
</g>
<text x="3.5" y="559" font-size="10.1" fill="#000" textLength="51.61" lengthAdjust="spacingAndGlyphs" stroke="#000" stroke-width="0.25">19 Feb 2021</text>
<text x="67.5" y="559" font-size="10.1" fill="#000" textLength="51.60" lengthAdjust="spacingAndGlyphs" stroke="#000" stroke-width="0.25">10 Mar 2021</text>
<text x="131.5" y="559" font-size="10.1" fill="#000" textLength="51.60" lengthAdjust="spacingAndGlyphs" stroke="#000" stroke-width="0.25">29 Mar 2021</text>
<text x="195.5" y="559" font-size="10.1" fill="#000" textLength="49.57" lengthAdjust="spacingAndGlyphs" stroke="#000" stroke-width="0.25">18 Apr 2021</text>
<text x="259.5" y="559" font-size="10.1" fill="#000" textLength="48.02" lengthAdjust="spacingAndGlyphs" stroke="#000" stroke-width="0.25">6 May 2021</text>
<text x="323.5" y="559" font-size="10.1" fill="#000" textLength="53.14" lengthAdjust="spacingAndGlyphs" stroke="#000" stroke-width="0.25">25 May 2021</text>
<text x="387.5" y="559" font-size="10.1" fill="#000" textLength="50.59" lengthAdjust="spacingAndGlyphs" stroke="#000" stroke-width="0.25">13 Jun 2021</text>
<text x="451.5" y="559" font-size="10.1" fill="#000" textLength="42.41" lengthAdjust="spacingAndGlyphs" stroke="#000" stroke-width="0.25">1 Jul 2021</text>
<text x="515.5" y="559" font-size="10.1" fill="#000" textLength="47.52" lengthAdjust="spacingAndGlyphs" stroke="#000" stroke-width="0.25">20 Jul 2021</text>
<text x="579.5" y="559" font-size="10.1" fill="#000" textLength="46.51" lengthAdjust="spacingAndGlyphs" stroke="#000" stroke-width="0.25">8 Aug 2021</text>
<text x="643.5" y="559" font-size="10.1" fill="#000" textLength="51.62" lengthAdjust="spacingAndGlyphs" stroke="#000" stroke-width="0.25">26 Aug 2021</text>
<text x="707.5" y="559" font-size="10.1" fill="#000" textLength="52.13" lengthAdjust="spacingAndGlyphs" stroke="#000" stroke-width="0.25">14 Sep 2021</text>
<text x="771.5" y="559" font-size="10.1" fill="#000" textLength="44.96" lengthAdjust="spacingAndGlyphs" stroke="#000" stroke-width="0.25">3 Oct 2021</text>
<text x="835.5" y="559" font-size="10.1" fill="#000" textLength="50.07" lengthAdjust="spacingAndGlyphs" stroke="#000" stroke-width="0.25">21 Oct 2021</text>
<text x="899.5" y="559" font-size="10.1" fill="#000" textLength="47.01" lengthAdjust="spacingAndGlyphs" stroke="#000" stroke-width="0.25">9 Nov 2021</text>
<path d="M7,35 L14,35 L10.5,31 Z" fill="#000"/>
<text x="19.8" y="36" font-size="10.3" fill="#000" textLength="68.30" lengthAdjust="spacingAndGlyphs" stroke="#000" stroke-width="0.25">AUDUSD-,Daily</text>
<text x="94.1" y="36" font-size="10.3" fill="#000" textLength="32.80" lengthAdjust="spacingAndGlyphs" stroke="#000" stroke-width="0.25">0.73447</text>
<text x="130.14999999999998" y="36" font-size="10.3" fill="#000" textLength="32.80" lengthAdjust="spacingAndGlyphs" stroke="#000" stroke-width="0.25">0.73668</text>
<text x="166.2" y="36" font-size="10.3" fill="#000" textLength="32.80" lengthAdjust="spacingAndGlyphs" stroke="#000" stroke-width="0.25">0.72913</text>
<text x="202.25" y="36" font-size="10.3" fill="#000" textLength="32.80" lengthAdjust="spacingAndGlyphs" stroke="#000" stroke-width="0.25">0.72994</text>
<defs>
<linearGradient id="gbtn" x1="0" y1="0" x2="0" y2="1"><stop offset="0" stop-color="#5858f6"/><stop offset="1" stop-color="#3c3ce6"/></linearGradient>
<linearGradient id="gpx" x1="0" y1="0" x2="0" y2="1"><stop offset="0" stop-color="#3838e2"/><stop offset="1" stop-color="#0808b0"/></linearGradient>
<linearGradient id="gpxu" gradientUnits="userSpaceOnUse" x1="0" y1="68" x2="0" y2="101"><stop offset="0" stop-color="#3838e2"/><stop offset="1" stop-color="#0808b0"/></linearGradient>
<linearGradient id="gsp" x1="0" y1="0" x2="0" y2="1"><stop offset="0" stop-color="#f2f2f2"/><stop offset="1" stop-color="#d4d4d4"/></linearGradient>
</defs>
<g shape-rendering="crispEdges">
<rect x="7" y="44" width="52" height="24" fill="url(#gbtn)"/>
<rect x="174" y="44" width="53" height="24" fill="url(#gbtn)"/>
<rect x="7" y="68" width="109" height="33" fill="url(#gpx)"/>
<rect x="118" y="68" width="109" height="33" fill="url(#gpx)"/>
<rect x="7" y="68" width="1" height="33" fill="#0000a0"/><rect x="115" y="68" width="1" height="33" fill="#0000a0"/><rect x="7" y="100" width="109" height="1" fill="#0000a0"/>
<rect x="118" y="68" width="1" height="33" fill="#0000a0"/><rect x="226" y="68" width="1" height="33" fill="#0000a0"/><rect x="118" y="100" width="109" height="1" fill="#0000a0"/>
<rect x="7" y="44" width="1" height="24" fill="#0000c0"/><rect x="226" y="44" width="1" height="24" fill="#0000c0"/>
<rect x="11" y="67" width="44" height="1" fill="#000080"/><rect x="11" y="68" width="44" height="1" fill="#8080ff"/>
<rect x="178" y="67" width="45" height="1" fill="#000080"/><rect x="178" y="68" width="45" height="1" fill="#8080ff"/>
<rect x="61" y="44" width="112" height="22" fill="#fff"/>
<rect x="61" y="44" width="112" height="1" fill="#c0c0c0"/><rect x="61" y="65" width="112" height="1" fill="#c0c0c0"/><rect x="61" y="44" width="1" height="22" fill="#c0c0c0"/><rect x="172" y="44" width="1" height="22" fill="#c0c0c0"/>
<rect x="62" y="45" width="21" height="20" fill="url(#gsp)"/><rect x="62" y="45" width="21" height="1" fill="#c8c8c8"/><rect x="62" y="64" width="21" height="1" fill="#b0b0b0"/><rect x="62" y="45" width="1" height="20" fill="#c8c8c8"/><rect x="82" y="45" width="1" height="20" fill="#b0b0b0"/>
<rect x="150" y="45" width="21" height="20" fill="url(#gsp)"/><rect x="150" y="45" width="21" height="1" fill="#c8c8c8"/><rect x="150" y="64" width="21" height="1" fill="#b0b0b0"/><rect x="150" y="45" width="1" height="20" fill="#c8c8c8"/><rect x="170" y="45" width="1" height="20" fill="#b0b0b0"/>
</g>
<path d="M69,53.5 L74,53.5 L71.5,56.5 Z" fill="#5068b8"/>
<path d="M157.5,56.5 L162.5,56.5 L160,53.5 Z" fill="#5068b8"/>
<text x="123.5" y="59" font-size="12.5" fill="#000" textLength="23.50" lengthAdjust="spacingAndGlyphs" >3.00</text>
<text x="19.7" y="60" font-size="12" fill="#fff" textLength="25.50" lengthAdjust="spacingAndGlyphs" >SELL</text>
<text x="188" y="60" font-size="12" fill="#fff" textLength="23.50" lengthAdjust="spacingAndGlyphs" >BUY</text>
<text x="27.2" y="95.5" font-size="11" font-weight="bold" fill="#fff" textLength="23.50" lengthAdjust="spacingAndGlyphs" >0.72</text>
<text x="54.5" y="96" font-size="33" fill="#fff" textLength="35.50" lengthAdjust="spacingAndGlyphs" stroke="url(#gpxu)" stroke-width="0.6">99</text>
<text x="93.8" y="80" font-size="11" font-weight="bold" fill="#fff" textLength="7.20" lengthAdjust="spacingAndGlyphs" >4</text>
<text x="137.2" y="95.5" font-size="11" font-weight="bold" fill="#fff" textLength="23.50" lengthAdjust="spacingAndGlyphs" >0.73</text>
<text x="165.5" y="96" font-size="33" fill="#fff" textLength="35.50" lengthAdjust="spacingAndGlyphs" stroke="url(#gpxu)" stroke-width="0.6">01</text>
<text x="205.5" y="80" font-size="11" font-weight="bold" fill="#fff" textLength="7.00" lengthAdjust="spacingAndGlyphs" >7</text>
</svg></body></html>
